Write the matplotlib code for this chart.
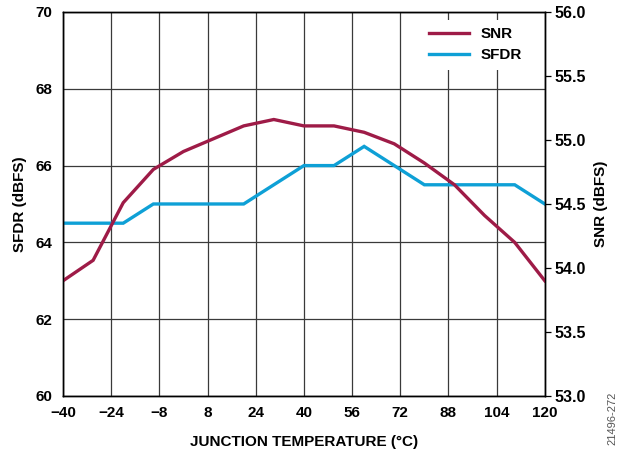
import numpy as np
import matplotlib.pyplot as plt

plt.rcParams['font.family'] = ['Liberation Sans', 'DejaVu Sans']
plt.rcParams['font.weight'] = 'bold'

# junction temperature (°C)
temp = [-40, -30, -20, -10, 0, 10, 20, 30, 40, 50, 60, 70, 80, 90, 100, 110, 120]
# SNR (dBFS), right axis
snr = [53.9, 54.06, 54.51, 54.77, 54.91, 55.01, 55.11, 55.16, 55.11, 55.11,
       55.06, 54.97, 54.82, 54.65, 54.41, 54.2, 53.9]
# SFDR (dBFS), left axis
sfdr = [64.5, 64.5, 64.5, 65.0, 65.0, 65.0, 65.0, 65.5, 66.0, 66.0,
        66.5, 66.0, 65.5, 65.5, 65.5, 65.5, 65.0]

x_ticks = [-40, -24, -8, 8, 24, 40, 56, 72, 88, 104, 120]
x_labels = ['\u221240', '\u221224', '\u22128', '8', '24', '40', '56', '72', '88', '104', '120']
sfdr_ticks = [60, 62, 64, 66, 68, 70]
snr_ticks = [53.0, 53.5, 54.0, 54.5, 55.0, 55.5, 56.0]

snr_color = '#9E1B47'
sfdr_color = '#0EA0D6'
grid_color = '#3a3a3a'

fig = plt.figure(figsize=(6.22, 4.54), dpi=100)
ax = fig.add_axes([0.1013, 0.1278, 0.7746, 0.8458])
ax2 = ax.twinx()

ax.set_xlim(-40, 120)
ax.set_ylim(60, 70)
ax2.set_ylim(53, 56)

ax.set_xticks(x_ticks)
ax.set_xticklabels(x_labels)
ax.set_yticks(sfdr_ticks)
ax2.set_yticks(snr_ticks)
ax2.set_yticklabels(['%.1f' % v for v in snr_ticks])

ax.grid(True, color=grid_color, linewidth=0.9)
ax.set_axisbelow(True)

ax.tick_params(axis='x', length=0, pad=7, labelsize=11)
ax.tick_params(axis='y', direction='in', length=0, pad=8, labelsize=11)
ax2.tick_params(axis='y', direction='out', length=4.5, width=0.9, pad=2.5, labelsize=11.5,
                color='black')

for a in (ax, ax2):
    for s in a.spines.values():
        s.set_linewidth(1.0)
        s.set_color('black')

l1, = ax2.plot(temp, snr, color=snr_color, linewidth=2.4, label='SNR', solid_joinstyle='miter')
l2, = ax.plot(temp, sfdr, color=sfdr_color, linewidth=2.4, label='SFDR', solid_joinstyle='miter')

ax.set_xlabel('JUNCTION TEMPERATURE (°C)', fontsize=11, fontweight='bold', labelpad=11)
ax.set_ylabel('SFDR (dBFS)', fontsize=11, fontweight='bold', labelpad=6)
ax2.set_ylabel('SNR (dBFS)', fontsize=11, fontweight='bold', labelpad=6)

leg = ax2.legend(handles=[l1, l2], loc='upper right', bbox_to_anchor=(0.985, 1.0),
                 frameon=True, fancybox=False, edgecolor='none', framealpha=1,
                 fontsize=11, handlelength=2.6, handletextpad=0.8,
                 borderpad=0.5, labelspacing=0.45)
leg.get_frame().set_linewidth(0)

fig.text(0.985, 0.079, '21496-272', rotation=90, fontsize=8, fontweight='normal',
         color='#555555', ha='center', va='center')

fig.savefig('out.png', dpi=100)
